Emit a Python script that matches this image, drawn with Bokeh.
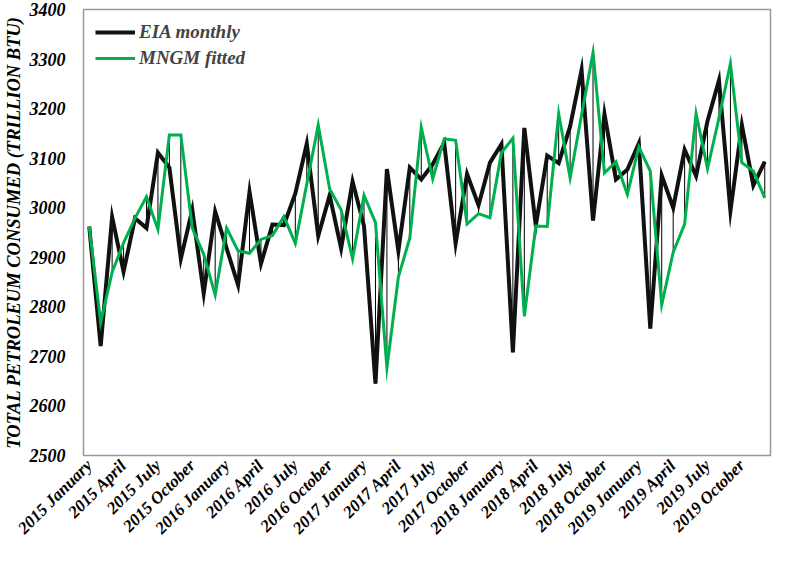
import math
from bokeh.plotting import figure
from bokeh.models import FixedTicker, Legend, LegendItem, ColumnDataSource
from bokeh.embed import file_html
from bokeh.resources import INLINE

years = [2015, 2016, 2017, 2018, 2019]
month_names = ["January", "April", "July", "October"]

eia = [2962, 2721, 2981, 2871, 2979, 2959, 3111, 3081, 2897, 2996,
       2827, 2992, 2918, 2844, 3032, 2887, 2966, 2965, 3029, 3129,
       2943, 3025, 2918, 3053, 2963, 2645, 3078, 2913, 3081, 3057,
       3088, 3131, 2928, 3068, 3005, 3091, 3128, 2708, 3161, 2964,
       3105, 3090, 3164, 3278, 2974, 3189, 3057, 3077, 3130, 2756,
       3065, 3000, 3117, 3064, 3175, 3257, 2994, 3167, 3045, 3093]

mngm = [2962, 2768, 2870, 2929, 2979, 3022, 2956, 3147, 3147, 2959,
        2906, 2824, 2959, 2913, 2908, 2936, 2944, 2982, 2928, 3048,
        3167, 3038, 2996, 2897, 3025, 2970, 2677, 2860, 2939, 3162,
        3058, 3139, 3136, 2967, 2988, 2980, 3111, 3140, 2781, 2963,
        2962, 3190, 3060, 3187, 3313, 3070, 3093, 3027, 3123, 3074,
        2804, 2910, 2967, 3190, 3079, 3181, 3291, 3091, 3074, 3020]

y_ticks = [2500, 2600, 2700, 2800, 2900, 3000, 3100, 3200, 3300, 3400]

month_idx = list(range(len(eia)))
tick_positions = [i for i in month_idx if i % 3 == 0]
tick_labels = [f"{y} {m}" for y in years for m in month_names]

FONT = "'Liberation Serif', 'Times New Roman', serif"

p = figure(width=772, height=547, output_backend="svg", toolbar_location=None,
           x_range=(-0.5, len(eia) - 0.5), y_range=(2500, 3400),
           min_border_left=10, min_border_right=2, min_border_top=9, min_border_bottom=10)

src = ColumnDataSource(dict(x=month_idx, eia=eia, mngm=mngm))

p.segment(x0="x", y0="eia", x1="x", y1="mngm", source=src, line_color="black", line_width=1)
r_eia = p.line("x", "eia", source=src, line_color="#111111", line_width=4, line_join="miter")
r_mngm = p.line("x", "mngm", source=src, line_color="#00B050", line_width=3, line_join="miter")

p.grid.visible = False
p.outline_line_color = "#999999"
p.outline_line_width = 1.5
p.background_fill_color = "white"
p.border_fill_color = "white"

# x axis
p.xaxis.ticker = FixedTicker(ticks=tick_positions)
p.xaxis.major_label_overrides = {pos: lab for pos, lab in zip(tick_positions, tick_labels)}
p.xaxis.major_label_orientation = math.pi / 4
p.xaxis.axis_line_color = None
p.xaxis.major_tick_line_color = None
p.xaxis.minor_tick_line_color = None
p.xaxis.major_label_text_font = FONT
p.xaxis.major_label_text_font_style = "bold italic"
p.xaxis.major_label_text_font_size = "17px"
p.xaxis.major_label_text_color = "black"
p.xaxis.major_label_standoff = 1

# y axis
p.yaxis.ticker = FixedTicker(ticks=y_ticks)
p.yaxis.axis_line_color = None
p.yaxis.major_tick_line_color = None
p.yaxis.minor_tick_line_color = None
p.yaxis.major_label_text_font = FONT
p.yaxis.major_label_text_font_style = "bold italic"
p.yaxis.major_label_text_font_size = "18px"
p.yaxis.major_label_text_color = "black"
p.yaxis.major_label_standoff = 12
p.yaxis.axis_label = "TOTAL PETROLEUM CONSUMED (TRILLION BTU)"
p.yaxis.axis_label_text_font = FONT
p.yaxis.axis_label_text_font_style = "bold italic"
p.yaxis.axis_label_text_font_size = "18.5px"
p.yaxis.axis_label_text_color = "black"
p.yaxis.axis_label_standoff = 3

legend = Legend(items=[LegendItem(label="EIA monthly", renderers=[r_eia]),
                       LegendItem(label="MNGM fitted", renderers=[r_mngm])],
                location="top_left")
legend.label_text_font = FONT
legend.label_text_font_style = "bold italic"
legend.label_text_font_size = "19px"
legend.border_line_color = None
legend.background_fill_alpha = 0
legend.glyph_width = 40
legend.glyph_height = 20
legend.spacing = 4
legend.padding = 3
legend.margin = 12
legend.label_standoff = 4
p.add_layout(legend)

open("out.html", "w").write(file_html(p, INLINE))
